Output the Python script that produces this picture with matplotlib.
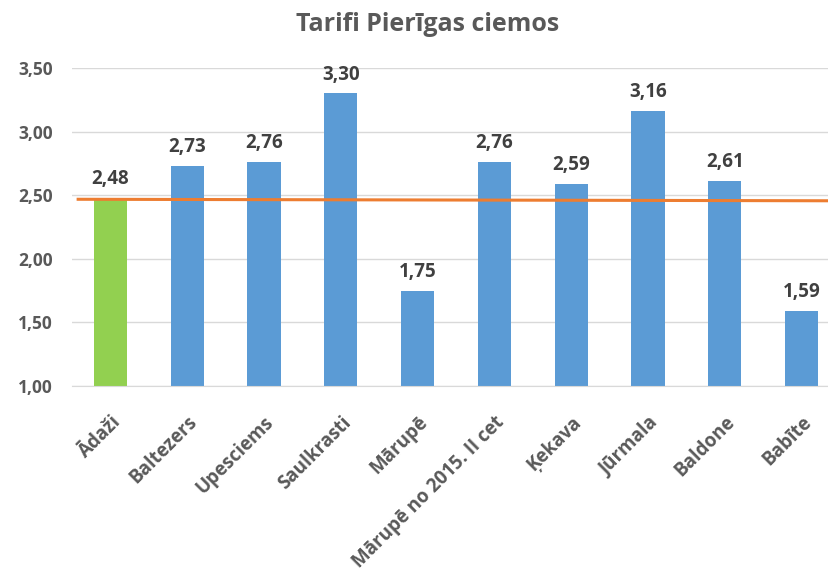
import matplotlib.pyplot as plt

# Chart data
places = ['Ādaži', 'Baltezers', 'Upesciems', 'Saulkrasti', 'Mārupē',
          'Mārupē no 2015. II cet', 'Ķekava', 'Jūrmala', 'Baldone', 'Babīte']
tariffs = [2.48, 2.73, 2.76, 3.30, 1.75, 2.76, 2.59, 3.16, 2.61, 1.59]
ref_line = [2.468, 2.456]  # orange reference line, left and right ends
yticks = [1.00, 1.50, 2.00, 2.50, 3.00, 3.50]

plt.rcParams['font.family'] = ['Open Sans', 'DejaVu Sans']

fig = plt.figure(figsize=(8.29, 5.73), dpi=100)
ax = fig.add_axes([72 / 829, 1 - 386 / 573, 768 / 829, 318 / 573])

colors = ['#92d050'] + ['#5b9bd5'] * (len(places) - 1)
x = list(range(len(places)))
bars = ax.bar(x, tariffs, width=0.43, color=colors, zorder=2)

for xi, v in zip(x, tariffs):
    ax.text(xi, v + 0.07, f'{v:.2f}'.replace('.', ','), ha='center', va='bottom',
            fontsize=13.5, fontweight='bold', color='#404040')

ax.plot([-0.42, 9.5], ref_line, color='#ed7d31', lw=2.2, zorder=3, clip_on=False)

ax.set_xlim(-0.5, 9.5)
ax.set_ylim(1.0, 3.5)
ax.set_yticks(yticks)
ax.set_yticklabels([f'{t:.2f}'.replace('.', ',') for t in yticks],
                   fontsize=12.5, fontweight='bold', color='#595959')
ax.set_xticks(x)
ax.set_xticklabels(places, rotation=45, ha='right', rotation_mode='anchor',
                   fontsize=13.5, fontweight='bold', color='#595959')
ax.tick_params(axis='both', length=0)
ax.tick_params(axis='y', pad=14)
ax.tick_params(axis='x', pad=19)

ax.grid(axis='y', color='#d9d9d9', lw=1, zorder=0)
for s in ['top', 'right', 'left']:
    ax.spines[s].set_visible(False)
ax.spines['bottom'].set_color('#d9d9d9')

fig.text(0.516, 0.958, 'Tarifi Pierīgas ciemos', ha='center', va='center',
         fontsize=18, fontweight='bold', color='#595959')

fig.savefig('out.png', dpi=100)
